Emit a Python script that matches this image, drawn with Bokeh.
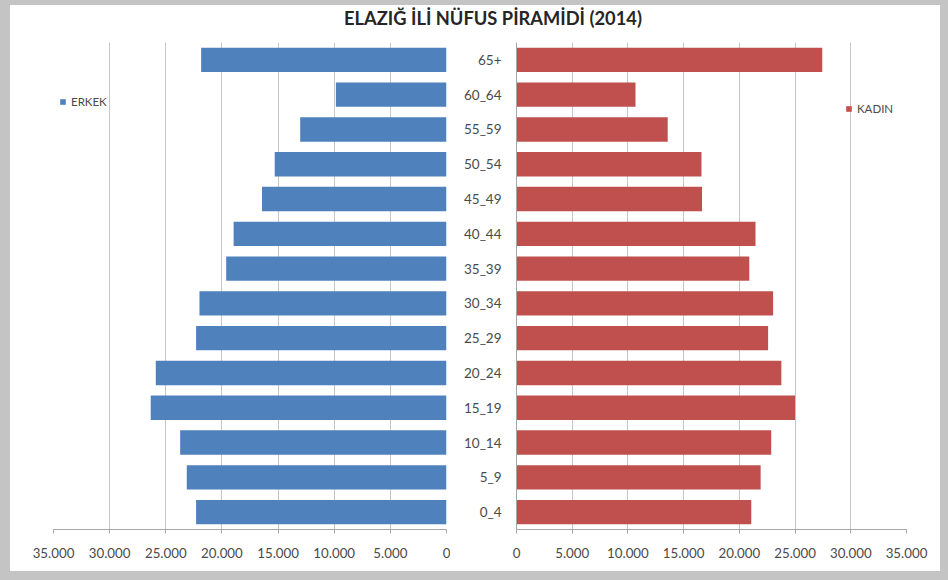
from bokeh.plotting import figure
from bokeh.models import FixedTicker, Range1d, FactorRange, Legend, LegendItem, Div, ColumnDataSource
from bokeh.layouts import row, column
from bokeh.embed import file_html
from bokeh.resources import INLINE

# ---- data ----
age_groups = ["0_4", "5_9", "10_14", "15_19", "20_24", "25_29", "30_34",
              "35_39", "40_44", "45_49", "50_54", "55_59", "60_64", "65+"]
erkek = [22300, 23130, 23720, 26340, 25890, 22300, 22000,
         19620, 18960, 16430, 15300, 13030, 9850, 21850]
kadin = [21070, 21910, 22860, 25000, 23770, 22580, 23030,
         20890, 21450, 16650, 16600, 13570, 10680, 27440]
x_ticks = [0, 5000, 10000, 15000, 20000, 25000, 30000, 35000]
title_text = "ELAZIĞ İLİ NÜFUS PİRAMİDİ (2014)"
series_names = ["ERKEK", "KADIN"]

BLUE = "#4F81BD"
RED = "#C0504D"
FONT = "Lato"
GRID = "#c6c6c6"
TXT = "#4a4a4a"
FRAME_GRAY = "#c4c4c4"

src = ColumnDataSource(dict(age=age_groups, erkek=erkek, kadin=kadin))
tick_labels = {v: f"{v:,}".replace(",", ".") for v in x_ticks}


def style_x(p):
    ax = p.xaxis[0]
    ax.ticker = FixedTicker(ticks=x_ticks)
    ax.major_label_overrides = tick_labels
    ax.axis_line_color = "#a6a6a6"
    ax.major_tick_line_color = "#a6a6a6"
    ax.major_tick_in = 0
    ax.major_tick_out = 4
    ax.minor_tick_line_color = None
    ax.major_label_standoff = 14
    ax.major_label_text_font = FONT
    ax.major_label_text_font_size = "13.3px"
    ax.major_label_text_color = TXT
    p.xgrid.grid_line_color = GRID
    p.ygrid.visible = False
    p.outline_line_color = None
    p.background_fill_color = "white"
    p.border_fill_color = "white"


def make_legend(label, renderer, loc):
    return Legend(items=[LegendItem(label=label, renderers=[renderer])],
                  location=loc, glyph_width=7, glyph_height=7,
                  label_text_font=FONT, label_text_font_size="11.5px", label_text_color=TXT,
                  label_standoff=5, padding=0, margin=0, spacing=0, label_height=10,
                  background_fill_alpha=0, border_line_color=None)


# ---- left panel (ERKEK) ----
p1 = figure(y_range=FactorRange(factors=age_groups), x_range=Range1d(35000, 0),
            frame_width=393, frame_height=487,
            min_border_left=43, min_border_right=4, min_border_top=6, min_border_bottom=42,
            toolbar_location=None, output_backend="svg")
r1 = p1.hbar(y="age", left=0, right="erkek", height=0.7, source=src,
             fill_color=BLUE, line_color=None)
p1.yaxis.visible = False
style_x(p1)
p1.add_layout(make_legend(series_names[0], r1, (6, 421)))

# ---- right panel (KADIN) ----
p2 = figure(y_range=FactorRange(factors=age_groups), x_range=Range1d(0, 35000),
            frame_width=390, frame_height=487,
            min_border_left=66, min_border_right=34, min_border_top=6, min_border_bottom=42,
            toolbar_location=None, output_backend="svg")
r2 = p2.hbar(y="age", left=0, right="kadin", height=0.7, source=src,
             fill_color=RED, line_color=None)
style_x(p2)
ya = p2.yaxis[0]
ya.axis_line_color = "#a6a6a6"
ya.major_tick_line_color = None
ya.major_label_text_font = FONT
ya.major_label_text_font_size = "13.5px"
ya.major_label_text_color = TXT
ya.major_label_standoff = 9
p2.add_layout(make_legend(series_names[1], r2, (329, 414)))

title = Div(text=title_text, width=930, height=31, margin=(0, 0, 0, 0),
            styles={"text-align": "center", "font-family": FONT, "font-weight": "bold",
                    "font-size": "18.3px", "color": "#262626", "line-height": "26px",
                    "text-indent": "36px", "background-color": "white"})

layout = column(title, row(p1, p2, spacing=0), spacing=0,
                margin=(5, 0, 0, 10),
                styles={"background-color": "white",
                        "outline": f"14px solid {FRAME_GRAY}"})

with open("out.html", "w") as f:
    f.write(file_html(layout, INLINE))
